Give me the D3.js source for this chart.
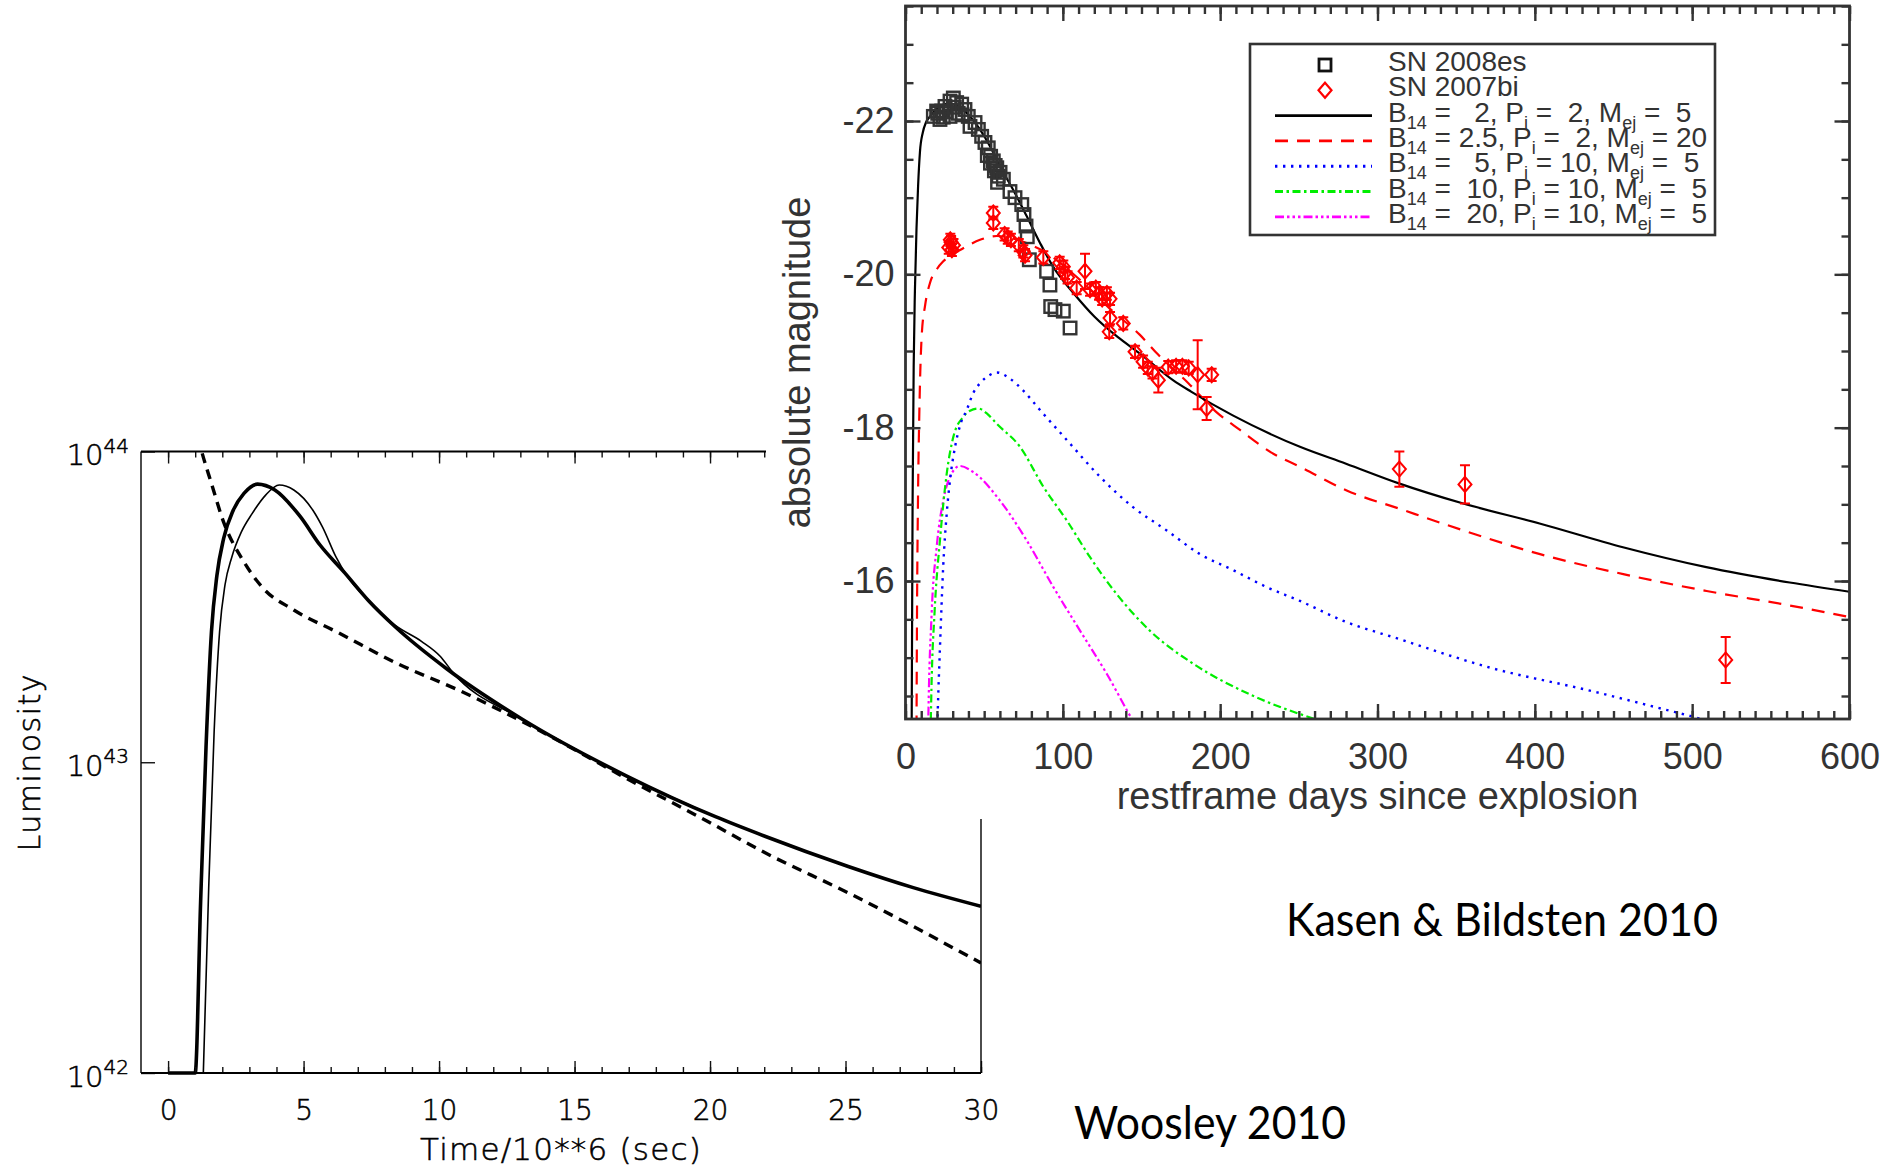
<!DOCTYPE html>
<html>
<head>
<meta charset="utf-8">
<script src="https://cdn.jsdelivr.net/npm/d3@7"></script>
<style>
  html, body { margin: 0; padding: 0; background: #fff; }
  svg { display: block; }
</style>
</head>
<body>
<svg id="fig" width="1888" height="1168"></svg>
<script>
// ---------------------------------------------------------------
// Woosley (2010): magnetar-powered light curves
// time in units of 10^6 s, luminosity in erg/s
// ---------------------------------------------------------------
const woosleyThick = [
  [0, 1.0e42], [1.0, 1.0e42], [1.2, 3.55e42], [1.4, 1.12e43], [1.6, 2.63e43],
  [1.8, 3.98e43], [2.05, 5.25e43], [2.4, 6.46e43], [2.8, 7.33e43], [3.3, 7.85e43],
  [3.94, 7.52e43], [4.88, 6.17e43], [5.6, 5.01e43], [6.52, 4.07e43], [7.4, 3.31e43],
  [8.4, 2.72e43], [10.28, 2.0e43], [13.1, 1.37e43], [16.87, 9.08e42], [20.2, 6.68e42],
  [22.0, 5.79e42], [25.1, 4.62e42], [27.5, 3.95e42], [30.0, 3.44e42]
];
const woosleyThin = [
  [1.3, 1.0e42], [1.5, 3.98e42], [1.7, 1.26e43], [1.9, 2.63e43], [2.1, 3.72e43],
  [2.35, 4.57e43], [2.7, 5.50e43], [3.1, 6.31e43], [3.6, 7.24e43], [4.1, 7.80e43],
  [4.64, 7.52e43], [5.35, 6.46e43], [5.7, 5.71e43], [6.2, 4.57e43], [6.6, 3.98e43],
  [7.4, 3.31e43], [8.4, 2.75e43], [9.35, 2.45e43], [10.05, 2.19e43], [10.5, 1.95e43],
  [13.1, 1.37e43], [16.87, 9.08e42], [20.2, 6.68e42]
];
const woosleyDashed = [
  [0.95, 1.26e44], [1.24, 1.0e44], [1.59, 7.94e43], [2.06, 5.89e43], [2.76, 4.47e43],
  [3.47, 3.66e43], [4.64, 3.09e43], [6.29, 2.61e43], [8.4, 2.09e43], [10.76, 1.70e43],
  [13.3, 1.32e43], [17.3, 8.51e42], [19.9, 6.46e42], [22.0, 5.13e42], [25.1, 3.80e42],
  [30.0, 2.26e42]
];
const woosleyTimeTicksMajor = [0, 5, 10, 15, 20, 25, 30];
const woosleyTimeTicksMinor = d3.range(0, 31, 1);
const woosleyLumTicks = [1e42, 1e43, 1e44];

// ---------------------------------------------------------------
// Kasen & Bildsten (2010): magnetar models vs. SN 2008es, SN 2007bi
// restframe days, absolute magnitude
// ---------------------------------------------------------------
const curveB2P2M5 = [
  [3.8, -13.5], [4.5, -17.0], [5.2, -18.8], [6.0, -19.8], [7.0, -20.6], [8.0, -21.15],
  [9.2, -21.6], [11, -21.85], [13, -21.98], [15.6, -22.06], [19, -22.14], [22, -22.19],
  [25, -22.22], [28.3, -22.23], [31.5, -22.21], [34.6, -22.18], [41, -22.06], [47.3, -21.89],
  [53.7, -21.67], [60, -21.41], [68.5, -21.1], [77, -20.76], [85.5, -20.41], [93.8, -20.1],
  [107, -19.75], [120, -19.45], [135, -19.18], [148.8, -18.97], [170, -18.62], [181.5, -18.47],
  [208, -18.16], [250.7, -17.75], [280, -17.53], [314, -17.27], [354.5, -17.01], [403, -16.75],
  [456, -16.44], [509, -16.18], [562, -15.98], [600, -15.86]
];
const curveB25P2M20 = [
  [6.9, -13.5], [7.3, -15.5], [7.9, -17.0], [8.8, -18.2], [10.3, -19.2], [12.5, -19.6],
  [15.6, -19.89], [20, -20.07], [24, -20.17], [30, -20.26], [36.7, -20.34], [47.4, -20.45],
  [58, -20.5], [70, -20.46], [80, -20.38], [89.7, -20.28], [100, -20.12], [115, -19.85],
  [130, -19.55], [149, -19.21], [160.7, -18.95], [179.8, -18.58], [197.8, -18.2], [212.6, -17.97],
  [233.8, -17.66], [250.7, -17.49], [280.4, -17.18], [314.3, -16.94], [354.5, -16.66],
  [403.3, -16.35], [456.2, -16.09], [509.2, -15.87], [562.2, -15.68], [600, -15.53]
];
const curveB5P10M5 = [
  [19.5, -13.5], [20.5, -14.3], [21.9, -15.13], [24, -16.2], [26.2, -16.88], [28.5, -17.35],
  [31.5, -17.75], [35, -18.05], [38.9, -18.23], [43, -18.45], [47.4, -18.58], [53, -18.68],
  [58, -18.72], [66.4, -18.64], [75, -18.48], [85.5, -18.23], [102.5, -17.84], [123.6, -17.36],
  [144.8, -16.96], [166, -16.66], [187.2, -16.35], [208.4, -16.14], [229.6, -15.92],
  [250.7, -15.74], [278.3, -15.48], [314.3, -15.24], [371.5, -14.87], [435, -14.57],
  [477.5, -14.35], [507, -14.19], [520, -14.1]
];
const curveB10P10M5 = [
  [15.5, -13.5], [16.5, -14.6], [18.5, -15.6], [21.9, -16.53], [26.2, -17.40], [30.4, -17.88],
  [36.7, -18.14], [41, -18.22], [46.3, -18.25], [52, -18.18], [58, -18.05], [72.8, -17.75],
  [87.6, -17.23], [102.5, -16.79], [117.3, -16.31], [134.2, -15.83], [155.4, -15.35],
  [182.9, -14.92], [219, -14.52], [261.4, -14.19], [275, -14.1]
];
const curveB20P10M5 = [
  [14, -13.5], [14.5, -14.19], [16.6, -15.57], [19.8, -16.44], [24, -17.05], [28.3, -17.36],
  [34.6, -17.50], [43.1, -17.42], [60, -17.05], [77, -16.53], [94, -15.92], [111, -15.35],
  [127.9, -14.79], [144.8, -14.17], [150, -14.0]
];

// SN 2008es photometry [day, mag]
const sn2008es = [
  [17.7, -22.06], [19.8, -22.13], [20.5, -22.1], [21.9, -22.02], [23, -22.13], [24, -22.05],
  [25.1, -22.19], [26, -22.12], [28.3, -22.26], [28.3, -22.06], [30.4, -22.30], [31, -22.18],
  [32.5, -22.24], [33.5, -22.1], [35.7, -22.22], [36, -22.08], [37.8, -22.15], [39.9, -22.06],
  [41, -21.93], [44.2, -21.98], [46.3, -21.89], [48.4, -21.80], [50.5, -21.72], [52, -21.55],
  [52.6, -21.65], [54, -21.45], [54.1, -21.54], [55.8, -21.48], [56.5, -21.35], [57, -21.42],
  [58, -21.39], [58.5, -21.2], [59, -21.28], [60.1, -21.33], [62.2, -21.24], [66.4, -21.08],
  [69.6, -21.0], [73.9, -20.91], [75.3, -20.78], [76.6, -20.63], [77.4, -20.49], [78.7, -20.19],
  [89.7, -20.04], [91.8, -19.86], [92.3, -19.58], [95, -19.54], [100.3, -19.52], [104.6, -19.30]
];
// SN 2007bi photometry [day, mag, error]
const sn2007bi = [
  [27.5, -20.35, 0.08], [29, -20.42, 0.08], [30.5, -20.38, 0.08], [29.5, -20.32, 0.08],
  [28.5, -20.45, 0.08], [55.8, -20.80, 0.08], [55.8, -20.67, 0.08], [63, -20.52, 0.08],
  [65, -20.48, 0.08], [67, -20.45, 0.08], [72, -20.38, 0.08], [74.9, -20.30, 0.08],
  [76, -20.25, 0.08], [87.6, -20.22, 0.08], [98, -20.15, 0.08], [100.3, -20.10, 0.08],
  [101.4, -20.02, 0.08], [103, -19.96, 0.08], [108.8, -19.82, 0.08], [114.1, -20.04, 0.23],
  [117.3, -19.80, 0.08], [121, -19.82, 0.08], [123, -19.75, 0.08], [125, -19.68, 0.08],
  [128, -19.75, 0.08], [130, -19.68, 0.08], [130, -19.43, 0.08], [138.4, -19.36, 0.08],
  [129.5, -19.25, 0.08], [145.9, -18.99, 0.08], [151, -18.86, 0.08], [154, -18.78, 0.08],
  [157, -18.72, 0.08], [160.7, -18.62, 0.16], [167, -18.79, 0.08], [172, -18.80, 0.08],
  [176, -18.80, 0.08], [180, -18.78, 0.08], [185.7, -18.69, 0.45], [194.6, -18.69, 0.08],
  [191.4, -18.25, 0.15], [313.9, -17.46, 0.23], [355.6, -17.26, 0.25], [521.3, -14.97, 0.30]
];

const dayTicksMajor = [0, 100, 200, 300, 400, 500, 600];
const dayTicksMinor = d3.range(0, 601, 10);
const magTicksMajor = [-22, -20, -18, -16];
const magTicksMinor = d3.range(-23.5, -14.0, 0.5);

// legend fields for the five models
const legendB = ["  2", "2.5", "  5", " 10", " 20"];
const legendP = [" 2", " 2", "10", "10", "10"];
const legendM = [" 5", "20", " 5", " 5", " 5"];

// line styles for the five models
const modelStyles = [
  { color: "#000000", dash: null, width: 2.2 },
  { color: "#ff0000", dash: "13,9", width: 2.2 },
  { color: "#0000ff", dash: "2.4,5.6", width: 2.4 },
  { color: "#00ee00", dash: "8,3.5,2.5,3.5", width: 2.2 },
  { color: "#ff00ff", dash: "9,3,2.5,3,2.5,3,2.5,3", width: 2.2 }
];
const modelCurves = [curveB2P2M5, curveB25P2M20, curveB5P10M5, curveB10P10M5, curveB20P10M5];

const svg = d3.select("#fig");
svg.append("rect").attr("width", 1888).attr("height", 1168).attr("fill", "#fff");

// =================== left panel (Woosley) ===================
const LP = { left: 141, right: 981, top: 451.5, bottom: 1073 };
const xT = d3.scaleLinear().domain([-1, 30]).range([LP.left, LP.right]);
const yLum = d3.scaleLog().domain([1e42, 1e44]).range([LP.bottom, LP.top]);
const leftFont = "'DejaVu Sans', sans-serif";

const defs = svg.append("defs");
defs.append("clipPath").attr("id", "clipLeft").append("rect")
  .attr("x", LP.left).attr("y", LP.top)
  .attr("width", LP.right - LP.left).attr("height", LP.bottom - LP.top + 2);

const gLeft = svg.append("g");
const lumLine = d3.line().x(d => xT(d[0])).y(d => yLum(d[1])).curve(d3.curveMonotoneX);
const curvesLeft = gLeft.append("g").attr("clip-path", "url(#clipLeft)").attr("fill", "none");
curvesLeft.append("path").datum(woosleyDashed).attr("d", lumLine)
  .attr("stroke", "#000").attr("stroke-width", 3.4).attr("stroke-dasharray", "10,7");
curvesLeft.append("path").datum(woosleyThin).attr("d", lumLine)
  .attr("stroke", "#000").attr("stroke-width", 1.6);
curvesLeft.append("path").datum(woosleyThick).attr("d", lumLine)
  .attr("stroke", "#000").attr("stroke-width", 3.6);

// thin-stroked light text, as in the plotting package's vector font
function lightText(sel) {
  sel.attr("font-weight", 200).attr("fill", "#000").attr("stroke", "#000").attr("stroke-width", 0.55);
}
function styleAxis(g, font, size, color) {
  g.select(".domain").remove();
  g.attr("color", color).attr("font-family", font).attr("font-size", size);
  g.selectAll("line").attr("stroke-width", 1.4);
}

// bottom axis: minor + major ticks, labels
gLeft.append("g").attr("transform", `translate(0,${LP.bottom})`)
  .call(d3.axisBottom(xT).tickValues(woosleyTimeTicksMinor).tickSize(-6).tickFormat(""))
  .call(g => styleAxis(g, leftFont, 28, "#111"));
gLeft.append("g").attr("transform", `translate(0,${LP.bottom})`)
  .call(d3.axisBottom(xT).tickValues(woosleyTimeTicksMajor).tickSize(-12).tickPadding(27)
    .tickFormat(d => String(d)))
  .call(g => styleAxis(g, leftFont, 28, "#111"))
  .call(g => g.selectAll("text").call(lightText));
// top axis
gLeft.append("g").attr("transform", `translate(0,${LP.top})`)
  .call(d3.axisTop(xT).tickValues(woosleyTimeTicksMinor).tickSize(-6).tickFormat(""))
  .call(g => styleAxis(g, leftFont, 28, "#111"));
gLeft.append("g").attr("transform", `translate(0,${LP.top})`)
  .call(d3.axisTop(xT).tickValues(woosleyTimeTicksMajor).tickSize(-12).tickFormat(""))
  .call(g => styleAxis(g, leftFont, 28, "#111"));
// left log axis with 10^n labels
gLeft.append("g").attr("transform", `translate(${LP.left},0)`)
  .call(d3.axisLeft(yLum).tickValues(woosleyLumTicks).tickSize(-14).tickPadding(12).tickFormat(""))
  .call(g => styleAxis(g, leftFont, 29, "#111"))
  .call(g => g.selectAll(".tick text").each(function (d) {
    const t = d3.select(this).call(lightText).attr("dy", "0.45em");
    t.append("tspan").text("10");
    t.append("tspan").attr("dy", "-0.62em").attr("font-size", 20)
      .text(String(Math.round(Math.log10(d))));
  }));

// frame
const frameL = gLeft.append("g").attr("stroke", "#000").attr("fill", "none");
frameL.append("line").attr("x1", LP.left).attr("x2", LP.right).attr("y1", LP.top).attr("y2", LP.top).attr("stroke-width", 2);
frameL.append("line").attr("x1", LP.left).attr("x2", LP.right).attr("y1", LP.bottom).attr("y2", LP.bottom).attr("stroke-width", 2);
frameL.append("line").attr("x1", LP.left).attr("x2", LP.left).attr("y1", LP.top).attr("y2", LP.bottom).attr("stroke-width", 1.4);
frameL.append("line").attr("x1", LP.right).attr("x2", LP.right).attr("y1", LP.top).attr("y2", LP.bottom).attr("stroke-width", 1.4);

gLeft.append("text").attr("x", (LP.left + LP.right) / 2).attr("y", 1160)
  .attr("text-anchor", "middle").attr("font-family", leftFont)
  .attr("font-size", 31).attr("letter-spacing", 1.2).call(lightText)
  .text("Time/10**6 (sec)");
gLeft.append("text").attr("transform", `translate(40,${(LP.top + LP.bottom) / 2}) rotate(-90)`)
  .attr("text-anchor", "middle").attr("font-family", leftFont)
  .attr("font-size", 30).attr("letter-spacing", 1.5).call(lightText)
  .text("Luminosity");

// =================== right panel (Kasen & Bildsten) ===================
// the right figure sits on its own white sheet over the left one
svg.append("rect").attr("x", 766).attr("y", 0).attr("width", 1888 - 766).attr("height", 819).attr("fill", "#fff");

const RP = { left: 905.5, right: 1849.5, top: 6, bottom: 719 };
const xD = d3.scaleLinear().domain([0, 600]).range([RP.left, RP.right]);
const yM = d3.scaleLinear().domain([-14.2, -23.5]).range([RP.bottom, RP.top]);
const rightFont = "'Liberation Sans', Arial, sans-serif";
const gray = "#333";

defs.append("clipPath").attr("id", "clipRight").append("rect")
  .attr("x", RP.left).attr("y", RP.top)
  .attr("width", RP.right - RP.left).attr("height", RP.bottom - RP.top);

const gRight = svg.append("g");
const magLine = d3.line().x(d => xD(d[0])).y(d => yM(d[1])).curve(d3.curveMonotoneX);

// model curves (drawn back to front)
const curvesRight = gRight.append("g").attr("clip-path", "url(#clipRight)").attr("fill", "none");
modelCurves.slice().reverse().forEach((c, k) => {
  const s = modelStyles[modelCurves.length - 1 - k];
  curvesRight.append("path").datum(c).attr("d", magLine)
    .attr("stroke", s.color).attr("stroke-width", s.width)
    .attr("stroke-dasharray", s.dash);
});

// SN 2008es squares
const sq = 12.5;
gRight.append("g").attr("clip-path", "url(#clipRight)")
  .selectAll("rect").data(sn2008es).join("rect")
  .attr("x", d => xD(d[0]) - sq / 2).attr("y", d => yM(d[1]) - sq / 2)
  .attr("width", sq).attr("height", sq)
  .attr("fill", "none").attr("stroke", gray).attr("stroke-width", 2.4);

// SN 2007bi diamonds with error bars
const dW = 6.5, dH = 7.5, cap = 5;
const bi = gRight.append("g").attr("clip-path", "url(#clipRight)")
  .attr("stroke", "#ff0000").attr("stroke-width", 2).attr("fill", "none");
bi.selectAll("path.err").data(sn2007bi).join("path").attr("class", "err")
  .attr("d", d => {
    const x = xD(d[0]), y1 = yM(d[1] - d[2]), y2 = yM(d[1] + d[2]);
    return `M${x},${y1}V${y2}M${x - cap},${y1}H${x + cap}M${x - cap},${y2}H${x + cap}`;
  });
bi.selectAll("path.pt").data(sn2007bi).join("path").attr("class", "pt")
  .attr("d", d => {
    const x = xD(d[0]), y = yM(d[1]);
    return `M${x},${y - dH}L${x + dW},${y}L${x},${y + dH}L${x - dW},${y}Z`;
  });

// axes
function styleR(g) {
  g.select(".domain").remove();
  g.attr("color", gray).attr("font-family", rightFont).attr("font-size", 36);
  g.selectAll("line").attr("stroke-width", 2.4);
  g.selectAll("text").attr("fill", gray);
}
const fmt = d => String(d);
gRight.append("g").attr("transform", `translate(0,${RP.bottom})`)
  .call(d3.axisBottom(xD).tickValues(dayTicksMinor).tickSize(-8).tickFormat("")).call(styleR);
gRight.append("g").attr("transform", `translate(0,${RP.bottom})`)
  .call(d3.axisBottom(xD).tickValues(dayTicksMajor).tickSize(-15).tickPadding(24).tickFormat(fmt)).call(styleR);
gRight.append("g").attr("transform", `translate(0,${RP.top})`)
  .call(d3.axisTop(xD).tickValues(dayTicksMinor).tickSize(-8).tickFormat("")).call(styleR);
gRight.append("g").attr("transform", `translate(0,${RP.top})`)
  .call(d3.axisTop(xD).tickValues(dayTicksMajor).tickSize(-15).tickFormat("")).call(styleR);
gRight.append("g").attr("transform", `translate(${RP.left},0)`)
  .call(d3.axisLeft(yM).tickValues(magTicksMinor).tickSize(-8).tickFormat("")).call(styleR);
gRight.append("g").attr("transform", `translate(${RP.left},0)`)
  .call(d3.axisLeft(yM).tickValues(magTicksMajor).tickSize(-15).tickPadding(11).tickFormat(fmt)).call(styleR);
gRight.append("g").attr("transform", `translate(${RP.right},0)`)
  .call(d3.axisRight(yM).tickValues(magTicksMinor).tickSize(-8).tickFormat("")).call(styleR);
gRight.append("g").attr("transform", `translate(${RP.right},0)`)
  .call(d3.axisRight(yM).tickValues(magTicksMajor).tickSize(-15).tickFormat("")).call(styleR);

gRight.append("rect").attr("x", RP.left).attr("y", RP.top)
  .attr("width", RP.right - RP.left).attr("height", RP.bottom - RP.top)
  .attr("fill", "none").attr("stroke", gray).attr("stroke-width", 2.8);

gRight.append("text").attr("x", (RP.left + RP.right) / 2).attr("y", 809)
  .attr("text-anchor", "middle").attr("font-family", rightFont).attr("font-size", 38)
  .attr("fill", gray).text("restframe days since explosion");
gRight.append("text").attr("transform", `translate(810,${(RP.top + RP.bottom) / 2}) rotate(-90)`)
  .attr("text-anchor", "middle").attr("font-family", rightFont).attr("font-size", 38)
  .attr("fill", gray).text("absolute magnitude");

// legend
const LG = { x: 1250, y: 44, w: 465, h: 191, symX: 1325, lineX1: 1275, lineX2: 1372, textX: 1388, row0: 65, rowH: 25.3 };
const gLeg = gRight.append("g");
gLeg.append("rect").attr("x", LG.x).attr("y", LG.y).attr("width", LG.w).attr("height", LG.h)
  .attr("fill", "#fff").attr("stroke", gray).attr("stroke-width", 2.6);
const legText = (row) => gLeg.append("text").attr("x", LG.textX).attr("y", LG.row0 + row * LG.rowH + 6)
  .attr("font-family", rightFont).attr("font-size", 28).attr("fill", gray)
  .style("white-space", "pre");
// data rows
gLeg.append("rect").attr("x", LG.symX - 6).attr("y", LG.row0 - 6).attr("width", 12).attr("height", 12)
  .attr("fill", "none").attr("stroke", "#111").attr("stroke-width", 2.8);
legText(0).text("SN 2008es");
gLeg.append("path")
  .attr("d", `M${LG.symX},${LG.row0 + LG.rowH - dH}l${dW},${dH}l${-dW},${dH}l${-dW},${-dH}Z`)
  .attr("fill", "none").attr("stroke", "#ff0000").attr("stroke-width", 2.2);
legText(1).text("SN 2007bi");
// model rows
modelStyles.forEach((s, i) => {
  const row = i + 2, y = LG.row0 + row * LG.rowH;
  gLeg.append("line").attr("x1", LG.lineX1).attr("x2", LG.lineX2).attr("y1", y).attr("y2", y)
    .attr("stroke", s.color).attr("stroke-width", s.width + 0.6).attr("stroke-dasharray", s.dash);
  const t = legText(row);
  const sub = 7, subSize = 18;
  t.append("tspan").text("B");
  t.append("tspan").attr("dy", sub).attr("font-size", subSize).text("14");
  t.append("tspan").attr("dy", -sub).text(` = ${legendB[i]}, P`);
  t.append("tspan").attr("dy", sub).attr("font-size", subSize).text("i");
  t.append("tspan").attr("dy", -sub).text(` = ${legendP[i]}, M`);
  t.append("tspan").attr("dy", sub).attr("font-size", subSize).text("ej");
  t.append("tspan").attr("dy", -sub).text(` = ${legendM[i]}`);
});

// =================== source captions ===================
const capFont = "Lato, 'Open Sans', sans-serif";
svg.append("text").attr("x", 1286).attr("y", 936).attr("font-family", capFont)
  .attr("font-size", 46).attr("fill", "#000")
  .attr("textLength", 432).attr("lengthAdjust", "spacingAndGlyphs")
  .text("Kasen & Bildsten 2010");
svg.append("text").attr("x", 1074).attr("y", 1139).attr("font-family", capFont)
  .attr("font-size", 46).attr("fill", "#000")
  .attr("textLength", 272).attr("lengthAdjust", "spacingAndGlyphs")
  .text("Woosley 2010");
</script>
</body>
</html>
